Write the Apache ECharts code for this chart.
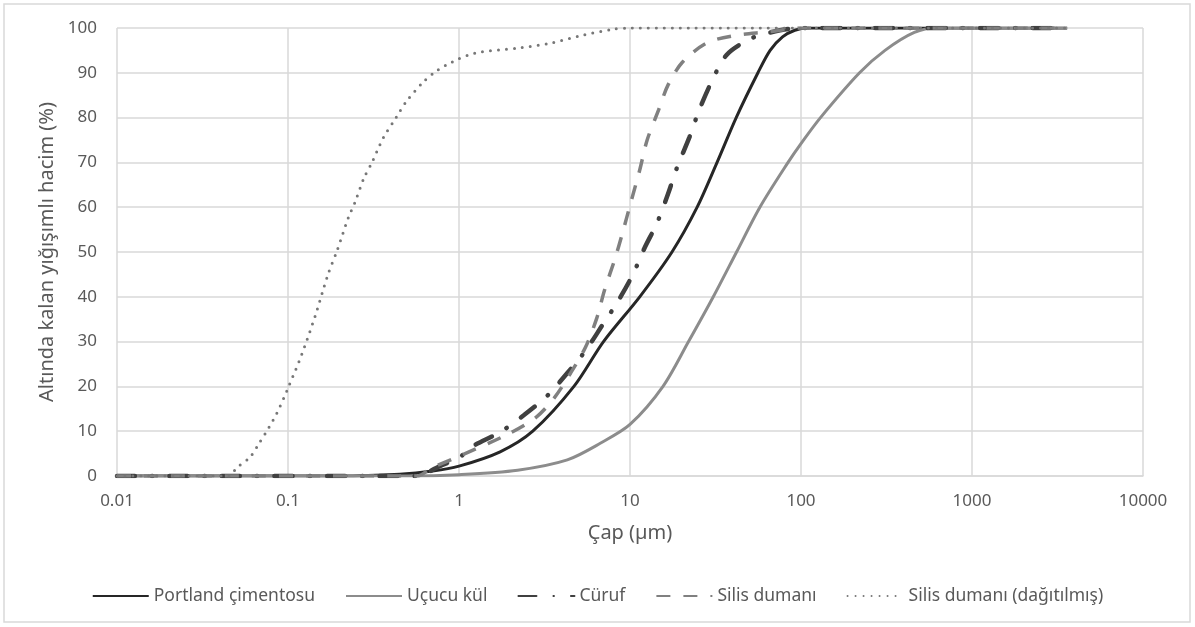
<!DOCTYPE html>
<html lang="tr">
<head>
<meta charset="UTF-8">
<title>Kümülatif tane boyutu dağılımı</title>
<script src="https://cdn.jsdelivr.net/npm/echarts@6/dist/echarts.min.js"></script>
<style>
    html, body { margin: 0; padding: 0; background: #fff; }
    #chart { width: 1195px; height: 627px; }
</style>
</head>
<body>
<div id="chart"></div>
<script>
// değerler (x: çap µm, y: altında kalan %)
var seriesNames = ["Portland çimentosu", "Uçucu kül", "Cüruf", "Silis dumanı", "Silis dumanı (dağıtılmış)"]

var pcX = [0.01, 0.2, 0.45, 0.7, 1, 1.74, 2.7, 4.7, 7, 11.4, 17.6, 24.7, 32.3, 41.8, 56, 66, 78, 92, 110, 3600]
var pcY = [0, 0, 0.4, 1.1, 2.2, 5.4, 10, 20, 30, 40, 50, 60, 70, 80, 90, 95, 98, 99.5, 100, 100]

var flyX = [0.01, 0.5, 1, 2.2, 4.3, 6.7, 10, 15.6, 22, 30.7, 42, 57.5, 84, 100, 130, 220, 310, 460, 620, 3600]
var flyY = [0, 0, 0.3, 1.3, 3.6, 7.3, 11.5, 20, 30, 40, 50, 60, 70, 74.2, 80, 90, 95, 99, 100, 100]

var slagX = [0.01, 0.56, 0.8, 1, 1.16, 1.74, 2.4, 3.3, 4.3, 5.5, 6.9, 8.5, 10.4, 12.2, 14.4, 16.7, 18.9, 22.3, 25.4, 30, 36.7, 50, 66, 100, 3600]
var slagY = [0, 0, 2.5, 4, 6.3, 9.8, 13.6, 18, 23, 28, 33.7, 39, 45, 51, 56.5, 63, 69, 75.7, 81.7, 88, 94, 97.5, 99, 100, 100]

var sfX = [0.01, 0.57, 0.69, 0.92, 1.9, 2.8, 3.6, 4.5, 5.5, 6.4, 7.1, 8.2, 9.0, 10.1, 11.4, 12.6, 14.7, 16.7, 20.3, 28.3, 42, 63, 100, 3600]
var sfY = [0, 0, 1.8, 3.8, 9.2, 13, 17.4, 23, 28.8, 35.3, 41.5, 48.7, 54, 61, 68.3, 75, 81.7, 87.3, 92.4, 96.7, 98.4, 99.1, 100, 100]

var sfdX = [0.01, 0.045, 0.05, 0.06, 0.068, 0.077, 0.086, 0.095, 0.1, 0.12, 0.145, 0.171, 0.194, 0.225, 0.247, 0.278, 0.31, 0.36, 0.43, 0.49, 0.62, 0.74, 0.91, 1.24, 2.2, 3.4, 5.3, 7.9, 10, 3600]
var sfdY = [0, 0, 1.8, 4.2, 7.4, 10.7, 14, 17.6, 19.6, 27, 36, 44.9, 50.4, 57.6, 61.2, 66.5, 70, 75.4, 80.1, 83.5, 88, 90.4, 92.4, 94.4, 95.5, 96.6, 98.4, 99.7, 100, 100]

function pairs(xs, ys) {
    return xs.map(function (x, i) { return [x, ys[i]] })
}

var textColor = "#595959"
var gridColor = "#d9d9d9"
var font = "Noto Sans"

function lineSeries(name, data, color, width, dash, cap) {
    return {
        name: name,
        type: "line",
        data: data,
        smooth: 0.3,
        symbol: "none",
        showSymbol: false,
        lineStyle: { color: color, width: width, type: dash, cap: cap || "butt" },
        itemStyle: { color: color }
    }
}

var chart = echarts.init(document.getElementById("chart"))
var option = {
    animation: false,
    backgroundColor: "#fff",
    graphic: [{
        type: "rect",
        shape: { x: 4, y: 4, width: 1186, height: 618 },
        style: { fill: "none", stroke: gridColor, lineWidth: 1.5 },
        silent: true
    }],
    grid: { left: 117, right: 52, top: 28, bottom: 151, containLabel: false },
    legend: {
        bottom: 17,
        left: "center",
        itemWidth: 56,
        itemHeight: 14,
        itemGap: 30,
        itemStyle: { opacity: 0 },
        textStyle: { color: textColor, fontSize: 17.5, fontFamily: font },
        data: seriesNames
    },
    xAxis: {
        type: "log",
        logBase: 10,
        min: 0.01,
        max: 10000,
        name: "Çap (µm)",
        nameLocation: "middle",
        nameGap: 47,
        nameTextStyle: { color: textColor, fontSize: 20, fontFamily: font },
        axisLine: { show: true, lineStyle: { color: gridColor, width: 1.5 } },
        axisTick: { show: false },
        axisLabel: {
            color: textColor, fontSize: 17, fontFamily: font, margin: 17,
            formatter: function (v) { return String(parseFloat(v.toPrecision(6))) }
        },
        splitLine: { show: true, lineStyle: { color: gridColor, width: 1.5 } },
        minorTick: { show: false }
    },
    yAxis: {
        type: "value",
        min: 0,
        max: 100,
        interval: 10,
        name: "Altında kalan yığışımlı hacim (%)",
        nameLocation: "middle",
        nameGap: 59,
        nameTextStyle: { color: textColor, fontSize: 20, fontFamily: font },
        axisLine: { show: false },
        axisTick: { show: false },
        axisLabel: { color: textColor, fontSize: 17, fontFamily: font, margin: 20 },
        splitLine: { show: true, lineStyle: { color: gridColor, width: 1.5 } }
    },
    series: [
        lineSeries(seriesNames[0], pairs(pcX, pcY), "#262626", 3, "solid"),
        lineSeries(seriesNames[1], pairs(flyX, flyY), "#8c8c8c", 3, "solid"),
        lineSeries(seriesNames[2], pairs(slagX, slagY), "#404040", 4.5, [18, 17, 0.5, 17], "round"),
        lineSeries(seriesNames[3], pairs(sfX, sfY), "#808080", 3.5, [14, 13]),
        lineSeries(seriesNames[4], pairs(sfdX, sfdY), "#777777", 3, [0, 8], "round")
    ]
}
chart.setOption(option)
</script>
</body>
</html>
